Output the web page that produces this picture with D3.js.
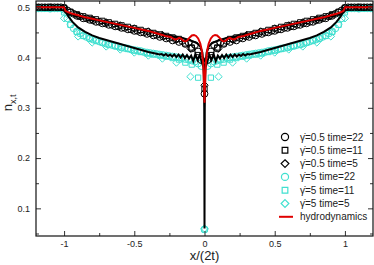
<!DOCTYPE html>
<html>
<head>
<meta charset="utf-8">
<script src="https://cdn.jsdelivr.net/npm/d3@7.9.0/dist/d3.min.js"></script>
<style>
  body { margin: 0; background: #fff; }
  svg { display: block; font-family: "Liberation Sans", Arial, sans-serif; }
  .axis path { display: none; }
  .axis line { stroke: #333; }
  .axis text { font-size: 9px; fill: #222; }
</style>
</head>
<body>
<svg id="chart" width="374" height="265"></svg>
<script>
// right half of each profile (x >= 0), the picture is symmetric in x
// marker y values, index k = lattice site, x = k / (2 * time)
const g05t22 = [0.328,0.395,0.412,0.425,0.418,0.430,0.427,0.433,0.431,0.436,0.434,0.439,0.438,0.442,0.441,0.445,0.444,0.448,0.447,0.450,0.450,0.453,0.453,0.456,0.456,0.459,0.459,0.462,0.462,0.465,0.465,0.468,0.468,0.471,0.471,0.474,0.475,0.478,0.478,0.482,0.483,0.487,0.490,0.494,0.499,0.5,0.5,0.5,0.5,0.5,0.5,0.5,0.5];
const g05t11 = [0.338,0.405,0.420,0.428,0.437,0.440,0.443,0.446,0.449,0.452,0.455,0.458,0.461,0.464,0.467,0.470,0.473,0.476,0.479,0.482,0.486,0.491,0.499,0.5,0.5,0.5,0.5];
const g05t5 = [0.345,0.418,0.436,0.445,0.452,0.458,0.464,0.470,0.476,0.483,0.499,0.5,0.5];
const g5t22 = [0.058,0.383,0.388,0.392,0.394,0.396,0.397,0.399,0.400,0.401,0.402,0.403,0.404,0.405,0.406,0.407,0.408,0.409,0.410,0.411,0.413,0.414,0.415,0.416,0.418,0.419,0.420,0.422,0.423,0.425,0.426,0.428,0.430,0.432,0.434,0.436,0.438,0.441,0.444,0.448,0.452,0.458,0.466,0.478,0.495,0.498,0.498,0.498,0.498,0.498,0.498,0.498,0.498];
const g5t11 = [0.058,0.360,0.386,0.390,0.396,0.399,0.402,0.404,0.406,0.408,0.411,0.414,0.417,0.420,0.423,0.426,0.430,0.434,0.438,0.443,0.451,0.465,0.490,0.498,0.498,0.498,0.498];
const g5t5 = [0.06,0.362,0.390,0.398,0.404,0.410,0.416,0.422,0.430,0.442,0.478,0.497,0.497];

// lines, right half as [x, y]
const hydro = [[0,0.31],[0.005,0.36],[0.01,0.39],[0.02,0.415],[0.03,0.428],[0.045,0.438],[0.06,0.443],[0.075,0.445],[0.09,0.444],[0.105,0.440],[0.12,0.435],[0.135,0.432],[0.15,0.433],[0.165,0.437],[0.18,0.439],[0.195,0.437],[0.21,0.436],[0.225,0.438],[0.24,0.441],[0.26,0.442],[0.28,0.443],[0.3,0.445],[0.35,0.449],[0.4,0.453],[0.45,0.456],[0.5,0.459],[0.55,0.462],[0.6,0.465],[0.65,0.468],[0.7,0.471],[0.75,0.474],[0.8,0.477],[0.85,0.480],[0.9,0.484],[0.94,0.487],[0.97,0.490],[0.99,0.493],[1.0,0.5],[1.2,0.5]];
const numG05 = [[0,0.33],[0.005,0.38],[0.015,0.41],[0.03,0.422],[0.05,0.428],[0.08,0.432],[0.12,0.436],[0.16,0.439],[0.2,0.441],[0.25,0.444],[0.3,0.446],[0.4,0.452],[0.5,0.458],[0.6,0.464],[0.7,0.470],[0.8,0.476],[0.9,0.482],[0.95,0.486],[0.98,0.490],[1.0,0.5],[1.2,0.5]];
const numG5 = [[0,0.06],[0.002,0.30],[0.006,0.38],[0.02,0.392],[0.035,0.405],[0.05,0.395],[0.065,0.407],[0.08,0.393],[0.095,0.404],[0.11,0.398],[0.125,0.405],[0.14,0.399],[0.155,0.406],[0.17,0.400],[0.185,0.406],[0.2,0.401],[0.215,0.406],[0.23,0.402],[0.245,0.406],[0.26,0.403],[0.275,0.407],[0.29,0.404],[0.305,0.407],[0.32,0.406],[0.35,0.408],[0.4,0.411],[0.45,0.415],[0.5,0.419],[0.55,0.423],[0.6,0.427],[0.65,0.431],[0.7,0.435],[0.75,0.439],[0.8,0.444],[0.85,0.451],[0.9,0.460],[0.94,0.471],[0.97,0.482],[0.99,0.492],[1.0,0.5],[1.2,0.5]];

const xTicks = [-1, -0.5, 0, 0.5, 1];
const xMinor = [-0.75, -0.25, 0.25, 0.75];
const yTicks = [0.1, 0.2, 0.3, 0.4, 0.5];
const yMinor = [0.05, 0.15, 0.25, 0.35, 0.45];

const legendLabels = ["γ̇=0.5 time=22", "γ̇=0.5 time=11", "γ̇=0.5 time=5", "γ̇=5 time=22", "γ̇=5 time=11", "γ̇=5 time=5", "hydrodynamics"];

const black = "#000", cyan = "#40e0d0", red = "#e00000";

const mLeft = 36, mRight = 373, mTop = 1, mBottom = 236;
const x = d3.scaleLinear().domain([-1.2, 1.2]).range([mLeft, mRight]);
const y = d3.scaleLinear().domain([0.045, 0.5125]).range([mBottom, mTop]);

const svg = d3.select("#chart");

// mirror helpers
function markerPts(vals, time) {
  let pts = [];
  vals.forEach((v, k) => {
    pts.push([k / (2 * time), v]);
    if (k > 0) pts.push([-k / (2 * time), v]);
  });
  return pts.filter(p => Math.abs(p[0]) <= 1.2);
}
function mirrorLine(half) {
  let neg = half.filter(p => p[0] > 0).map(p => [-p[0], p[1]]).reverse();
  return neg.concat(half);
}

svg.append("defs").append("clipPath").attr("id", "clip")
  .append("rect").attr("x", mLeft).attr("y", mTop).attr("width", mRight - mLeft).attr("height", mBottom - mTop);

const marks = svg.append("g").attr("clip-path", "url(#clip)");

function symSize(shape) {
  return shape === d3.symbolCircle ? 36 : (shape === d3.symbolSquare ? 28 : 34);
}

function drawMarkers(pts, shape, color) {
  let sym = d3.symbol().type(shape).size(symSize(shape));
  marks.append("g").selectAll("path").data(pts).join("path")
    .attr("d", sym)
    .attr("transform", d => `translate(${x(d[0])},${y(d[1])})`)
    .attr("fill", "none")
    .attr("stroke", color)
    .attr("stroke-width", 1);
}

drawMarkers(markerPts(g5t22, 22), d3.symbolCircle, cyan);
drawMarkers(markerPts(g5t11, 11), d3.symbolSquare, cyan);
drawMarkers(markerPts(g5t5, 5), d3.symbolDiamond2, cyan);
drawMarkers(markerPts(g05t22, 22), d3.symbolCircle, black);
drawMarkers(markerPts(g05t11, 11), d3.symbolSquare, black);
drawMarkers(markerPts(g05t5, 5), d3.symbolDiamond2, black);

const line = d3.line().x(d => x(d[0])).y(d => y(d[1]));
marks.append("path").attr("d", line(mirrorLine(numG5))).attr("fill", "none").attr("stroke", black).attr("stroke-width", 2);
marks.append("path").attr("d", line(mirrorLine(numG05))).attr("fill", "none").attr("stroke", black).attr("stroke-width", 2);
marks.append("path").attr("d", line(mirrorLine(hydro))).attr("fill", "none").attr("stroke", red).attr("stroke-width", 2);

// axes, ticks inward on all four sides
const fmt = d => String(d);
svg.append("g").attr("class", "axis").attr("transform", `translate(0,${mBottom})`)
  .call(d3.axisBottom(x).tickValues(xTicks).tickSize(-5).tickPadding(5).tickFormat(fmt));
svg.append("g").attr("class", "axis").attr("transform", `translate(0,${mBottom})`)
  .call(d3.axisBottom(x).tickValues(xMinor).tickSize(-3).tickFormat(""));
svg.append("g").attr("class", "axis").attr("transform", `translate(0,${mTop})`)
  .call(d3.axisTop(x).tickValues(xTicks).tickSize(-5).tickFormat(""));
svg.append("g").attr("class", "axis").attr("transform", `translate(0,${mTop})`)
  .call(d3.axisTop(x).tickValues(xMinor).tickSize(-3).tickFormat(""));
svg.append("g").attr("class", "axis").attr("transform", `translate(${mLeft},0)`)
  .call(d3.axisLeft(y).tickValues(yTicks).tickSize(-5).tickPadding(6).tickFormat(fmt));
svg.append("g").attr("class", "axis").attr("transform", `translate(${mLeft},0)`)
  .call(d3.axisLeft(y).tickValues(yMinor).tickSize(-3).tickFormat(""));
svg.append("g").attr("class", "axis").attr("transform", `translate(${mRight},0)`)
  .call(d3.axisRight(y).tickValues(yTicks).tickSize(-5).tickFormat(""));
svg.append("g").attr("class", "axis").attr("transform", `translate(${mRight},0)`)
  .call(d3.axisRight(y).tickValues(yMinor).tickSize(-3).tickFormat(""));

svg.append("rect").attr("x", mLeft).attr("y", mTop).attr("width", mRight - mLeft).attr("height", mBottom - mTop)
  .attr("fill", "none").attr("stroke", "#111").attr("stroke-width", 1.2);

// axis titles
svg.append("text").attr("x", x(0)).attr("y", 260).attr("text-anchor", "middle")
  .attr("font-size", 13).attr("fill", "#222").text("x/(2t)");
const yl = svg.append("text").attr("transform", `translate(12,${y(0.31)}) rotate(-90)`)
  .attr("text-anchor", "middle").attr("font-size", 13).attr("fill", "#222");
yl.append("tspan").text("n");
yl.append("tspan").attr("font-size", 9).attr("dy", 4).text("x,t");

// legend
const legendShapes = [d3.symbolCircle, d3.symbolSquare, d3.symbolDiamond2, d3.symbolCircle, d3.symbolSquare, d3.symbolDiamond2, null];
const legendColors = [black, black, black, cyan, cyan, cyan, red];
const lg = svg.append("g");
legendLabels.forEach((lab, i) => {
  let ly = 137 + i * 13.3;
  if (legendShapes[i]) {
    lg.append("path")
      .attr("d", d3.symbol().type(legendShapes[i]).size(symSize(legendShapes[i]) + 4))
      .attr("transform", `translate(285,${ly})`)
      .attr("fill", "none").attr("stroke", legendColors[i]).attr("stroke-width", 1.2);
  } else {
    lg.append("line").attr("x1", 279).attr("x2", 293).attr("y1", ly).attr("y2", ly)
      .attr("stroke", red).attr("stroke-width", 2);
  }
  lg.append("text").attr("x", 300).attr("y", ly + 3.5).attr("font-size", 10).attr("fill", "#222").text(lab);
});
</script>
</body>
</html>
